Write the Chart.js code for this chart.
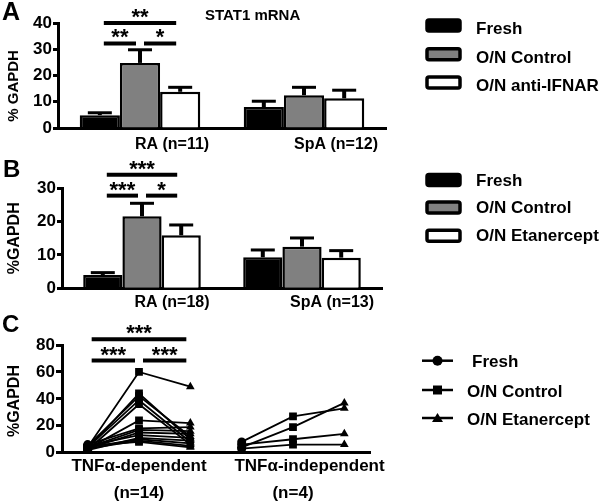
<!DOCTYPE html>
<html>
<head>
<meta charset="utf-8">
<script src="https://cdn.jsdelivr.net/npm/chart.js@4.4.0/dist/chart.umd.min.js"></script>
<style>
body { margin: 0; background: #fff; width: 601px; height: 503px; overflow: hidden; position: relative;
       font-family: "Liberation Sans", Arial, sans-serif; font-weight: bold; color: #000; }
canvas { position: absolute; left: 0; }
.lbl { position: absolute; line-height: 1; white-space: nowrap; }
</style>
</head>
<body>
<canvas id="chartA" width="601" height="165" style="top:0px"></canvas>
<canvas id="chartB" width="601" height="165" style="top:155px"></canvas>
<canvas id="chartC" width="601" height="193" style="top:310px"></canvas>
<div class="lbl" style="left:2px;top:-1px;font-size:25px">A</div>
<div class="lbl" style="left:3px;top:157px;font-size:24px">B</div>
<div class="lbl" style="left:2px;top:312px;font-size:24px">C</div>
<div class="lbl" style="left:205px;top:7px;font-size:15px">STAT1 mRNA</div>
<script>
(function main() {
// panel A
var aLabels = ["RA (n=11)", "SpA (n=12)"];
var aFresh = [4.9, 8.0];
var aFreshSem = [0.9, 2.2];
var aControl = [24.8, 12.5];
var aControlSem = [5.0, 3.0];
var aIfnar = [13.8, 11.3];
var aIfnarSem = [1.7, 3.1];
var aBrackets = [[0, 2, 40.0, "**"], [0, 1, 32.2, "**"], [1, 2, 32.2, "*"]];

// panel B
var bLabels = ["RA (n=18)", "SpA (n=13)"];
var bFresh = [4.0, 9.3];
var bFreshSem = [0.7, 2.2];
var bControl = [21.6, 12.5];
var bControlSem = [3.9, 2.6];
var bEtan = [15.9, 9.2];
var bEtanSem = [3.1, 2.1];
var bBrackets = [[0, 2, 34.1, "***"], [0, 1, 27.8, "***"], [1, 2, 27.8, "*"]];

// panel C, one value per patient
var cCategories = ["Fresh", "O/N Control", "O/N Etanercept", "Fresh", "O/N Control", "O/N Etanercept"];
var cTickLabels = ["", ["TNF\u03b1-dependent", "(n=14)"], "", "", ["       TNF\u03b1-independent", "(n=4)"], ""];
var depFresh = [4, 3, 5, 4, 2, 3, 6, 4, 3, 5, 2, 4, 3, 5];
var depControl = [60, 44, 42, 39, 36, 24, 18, 17, 15, 13, 11, 10, 9, 8];
var depEtan = [49, 10, 12, 8, 6, 22, 19, 16, 14, 11, 9, 7, 5, 4];
var indFresh = [8, 4, 6, 3];
var indControl = [27, 19, 10, 6];
var indEtan = [33, 37, 14, 6];
var cBrackets = [[0, 2, 84.3, "***"], [0, 1, 68.4, "***"], [1, 2, 68.4, "***"]];
var cLegendLabels = ["Fresh", "O/N Control", "O/N Etanercept"];
var cPointStyles = ["circle", "rect", "triangle"];

var FONT = "Liberation Sans";
Chart.defaults.font.family = FONT;
Chart.defaults.font.weight = "bold";
Chart.defaults.color = "#000";

var errorBarPlugin = {
    id: "errorBars",
    afterDatasetsDraw: function(chart) {
        var ctx = chart.ctx;
        var yScale = chart.scales.y;
        chart.data.datasets.forEach(function(ds, i) {
            if (!ds.sem) return;
            var meta = chart.getDatasetMeta(i);
            meta.data.forEach(function(bar, j) {
                var top = yScale.getPixelForValue(ds.data[j] + ds.sem[j]);
                ctx.save();
                ctx.strokeStyle = "#000";
                ctx.lineWidth = 4;
                ctx.beginPath();
                ctx.moveTo(bar.x, bar.y);
                ctx.lineTo(bar.x, top);
                ctx.stroke();
                ctx.lineWidth = 3;
                ctx.beginPath();
                ctx.moveTo(bar.x - 12, top);
                ctx.lineTo(bar.x + 12, top);
                ctx.stroke();
                ctx.restore();
            });
        });
    }
};

function xOf(chart, idx) {
    if (chart.config.type === "bar") {
        return chart.getDatasetMeta(idx).data[0].x;
    }
    return chart.scales.x.getPixelForValue(idx);
}

function makeBracketPlugin(items) {
    return {
        id: "brackets",
        afterDraw: function(chart) {
            var ctx = chart.ctx;
            var yScale = chart.scales.y;
            ctx.save();
            items.forEach(function(b) {
                var x1 = xOf(chart, b[0]) + 4;
                var x2 = xOf(chart, b[1]) - 4;
                var y = yScale.getPixelForValue(b[2]);
                ctx.strokeStyle = "#000";
                ctx.lineWidth = 4;
                ctx.beginPath();
                ctx.moveTo(x1, y);
                ctx.lineTo(x2, y);
                ctx.stroke();
                ctx.fillStyle = "#000";
                ctx.font = "bold 22px " + FONT;
                ctx.textAlign = "center";
                ctx.textBaseline = "alphabetic";
                ctx.fillText(b[3], (x1 + x2) / 2, y + 1);
            });
            ctx.restore();
        }
    };
}

// legend with boxes, takes names and colours from the datasets
function makeBoxLegend(boxX, textX, rows, textDy) {
    return {
        id: "boxLegend",
        afterDraw: function(chart) {
            var ctx = chart.ctx;
            ctx.save();
            chart.data.datasets.forEach(function(ds, i) {
                var cy = rows[i];
                ctx.fillStyle = ds.backgroundColor;
                ctx.strokeStyle = "#000";
                ctx.lineWidth = 3.5;
                ctx.beginPath();
                ctx.roundRect(boxX + 2, cy - 5.5, 33, 11, 2);
                ctx.fill();
                ctx.stroke();
                ctx.fillStyle = "#000";
                ctx.font = "bold 17px " + FONT;
                ctx.textAlign = "left";
                ctx.textBaseline = "alphabetic";
                ctx.fillText(ds.label, textX, cy + textDy);
            });
            ctx.restore();
        }
    };
}

function drawMarker(ctx, style, x, y) {
    ctx.beginPath();
    if (style === "circle") {
        ctx.arc(x, y, 5, 0, Math.PI * 2);
    } else if (style === "rect") {
        ctx.rect(x - 4.5, y - 4.5, 9, 9);
    } else {
        ctx.moveTo(x, y - 5);
        ctx.lineTo(x + 5.5, y + 4);
        ctx.lineTo(x - 5.5, y + 4);
        ctx.closePath();
    }
    ctx.fill();
}

var lineLegendPlugin = {
    id: "lineLegend",
    afterDraw: function(chart) {
        var ctx = chart.ctx;
        var rows = [50.7, 80, 108];
        var textX = [472, 467, 467];
        ctx.save();
        for (var i = 0; i < cLegendLabels.length; i++) {
            ctx.strokeStyle = "#000";
            ctx.fillStyle = "#000";
            ctx.lineWidth = 2.5;
            ctx.beginPath();
            ctx.moveTo(422, rows[i]);
            ctx.lineTo(453, rows[i]);
            ctx.stroke();
            drawMarker(ctx, cPointStyles[i], 437.5, rows[i]);
            ctx.font = "bold 17px " + FONT;
            ctx.textAlign = "left";
            ctx.textBaseline = "alphabetic";
            ctx.fillText(cLegendLabels[i], textX[i], rows[i] + 6.5);
        }
        ctx.restore();
    }
};

function yAxis(max, step, title, axisWidth, titleSize) {
    return {
        min: 0,
        max: max,
        ticks: { stepSize: step, padding: 1, font: { size: 17, weight: "bold" }, color: "#000" },
        grid: { display: true, drawOnChartArea: false, tickLength: 5, tickWidth: 3, tickColor: "#000" },
        border: { display: true, width: 3, color: "#000" },
        title: { display: true, text: title, color: "#000", font: { size: titleSize, weight: "bold" }, padding: { top: 5, bottom: 0 } },
        afterFit: function(s) { s.width = axisWidth; }
    };
}

function barDataset(label, data, sem, color) {
    return {
        label: label,
        data: data,
        sem: sem,
        backgroundColor: color,
        borderColor: "#000",
        borderWidth: 2.5,
        barPercentage: 1,
        categoryPercentage: 0.735
    };
}

function barChart(id, labels, datasets, opts) {
    return new Chart(document.getElementById(id), {
        type: "bar",
        data: { labels: labels, datasets: datasets },
        options: {
            responsive: false,
            animation: false,
            layout: { padding: { top: opts.top, right: opts.right, left: 0, bottom: 0 } },
            plugins: { legend: { display: false }, tooltip: { enabled: false } },
            scales: {
                x: {
                    offset: true,
                    grid: { display: false, drawTicks: false, tickLength: 0 },
                    border: { display: true, width: 3, color: "#000" },
                    ticks: { labelOffset: opts.labelOffset, padding: opts.labelPad, font: { size: 16, weight: "bold" }, color: "#000", maxRotation: 0 },
                    afterFit: function(s) { s.height = opts.xHeight; }
                },
                y: yAxis(opts.max, opts.step, opts.title, opts.axisWidth, opts.titleSize)
            }
        },
        plugins: [errorBarPlugin, makeBracketPlugin(opts.brackets), makeBoxLegend(425, 476, opts.legendRows, opts.textDy)]
    });
}

barChart("chartA", aLabels, [
    barDataset("Fresh", aFresh, aFreshSem, "#000000"),
    barDataset("O/N Control", aControl, aControlSem, "#808080"),
    barDataset("O/N anti-IFNAR", aIfnar, aIfnarSem, "#ffffff")
], {
    top: 23, right: 215, xHeight: 37, axisWidth: 58, max: 40, step: 10,
    title: "% GAPDH     ", titleSize: 15, labelOffset: 32, labelPad: 7,
    brackets: aBrackets, legendRows: [25.5, 54.2, 82.5], textDy: 8.5
});

barChart("chartB", bLabels, [
    barDataset("Fresh", bFresh, bFreshSem, "#000000"),
    barDataset("O/N Control", bControl, bControlSem, "#808080"),
    barDataset("O/N Etanercept", bEtan, bEtanSem, "#ffffff")
], {
    top: 33.3, right: 219, xHeight: 31.7, axisWidth: 62, max: 30, step: 10,
    title: "%GAPDH", titleSize: 16, labelOffset: 30, labelPad: 5,
    brackets: bBrackets, legendRows: [25, 52.5, 80.8], textDy: 5.5
});

var datasetsC = [];
for (var i = 0; i < depFresh.length; i++) {
    datasetsC.push({ data: [depFresh[i], depControl[i], depEtan[i], null, null, null] });
}
for (var k = 0; k < indFresh.length; k++) {
    datasetsC.push({ data: [null, null, null, indFresh[k], indControl[k], indEtan[k]] });
}
datasetsC.forEach(function(ds) {
    ds.borderColor = "#000";
    ds.backgroundColor = "#000";
    ds.borderWidth = 1.8;
    ds.pointStyle = cPointStyles.concat(cPointStyles);
    ds.pointRadius = [4.5, 5.5, 5, 4.5, 5.5, 5];
    ds.pointBorderWidth = 0;
    ds.fill = false;
    ds.tension = 0;
});

var yC = yAxis(80, 20, "%GAPDH ", 62, 16);
yC.grid.tickLength = 6;

new Chart(document.getElementById("chartC"), {
    type: "line",
    data: { labels: cCategories, datasets: datasetsC },
    options: {
        responsive: false,
        animation: false,
        layout: { padding: { top: 35, right: 231, left: 0, bottom: 0 } },
        plugins: { legend: { display: false }, tooltip: { enabled: false } },
        scales: {
            x: {
                offset: true,
                grid: { display: false, drawTicks: false, tickLength: 0 },
                border: { display: true, width: 3, color: "#000" },
                ticks: {
                    autoSkip: false, maxRotation: 0, padding: 0, color: "#000",
                    font: { size: 17, weight: "bold", lineHeight: 1.6 },
                    callback: function(value, index) { return cTickLabels[index]; }
                },
                afterFit: function(s) { s.height = 50.3; }
            },
            y: yC
        }
    },
    plugins: [makeBracketPlugin(cBrackets), lineLegendPlugin]
});
})();
</script>
</body>
</html>
